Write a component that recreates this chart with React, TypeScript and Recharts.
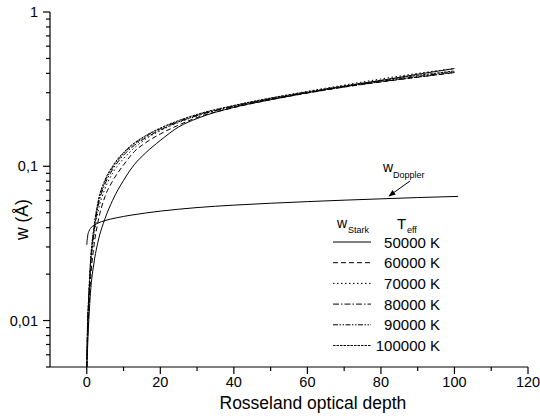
import React from 'react';
import { LineChart, Line, XAxis, YAxis, Label } from 'recharts';

// ---- data ----
const tauGrid = [0, 0.2, 0.5, 1, 2, 3, 5, 7, 10, 13, 16, 20, 25, 30, 40, 50, 60, 70, 80, 90, 100];
const w50000 = [0.005, 0.0065, 0.0095, 0.015, 0.024, 0.032, 0.046, 0.06, 0.081, 0.103, 0.122, 0.147, 0.18, 0.204, 0.241, 0.27, 0.3, 0.33, 0.36, 0.395, 0.43];
const w60000 = [0.005, 0.0075, 0.011, 0.018, 0.031, 0.043, 0.064, 0.08, 0.102, 0.125, 0.142, 0.162, 0.185, 0.207, 0.24, 0.27, 0.298, 0.326, 0.352, 0.378, 0.405];
const w70000 = [0.005, 0.008, 0.0125, 0.021, 0.036, 0.05, 0.072, 0.09, 0.112, 0.132, 0.15, 0.17, 0.192, 0.212, 0.245, 0.276, 0.306, 0.336, 0.368, 0.4, 0.43];
const w80000 = [0.005, 0.0085, 0.013, 0.022, 0.038, 0.054, 0.077, 0.095, 0.118, 0.137, 0.153, 0.172, 0.194, 0.213, 0.244, 0.273, 0.3, 0.328, 0.355, 0.382, 0.41];
const w90000 = [0.005, 0.009, 0.0135, 0.023, 0.04, 0.056, 0.08, 0.098, 0.121, 0.14, 0.156, 0.175, 0.196, 0.215, 0.246, 0.274, 0.3, 0.327, 0.353, 0.378, 0.405];
const w100000 = [0.005, 0.0095, 0.014, 0.024, 0.041, 0.058, 0.082, 0.1, 0.123, 0.142, 0.158, 0.177, 0.198, 0.217, 0.248, 0.277, 0.304, 0.332, 0.36, 0.388, 0.415];

const tauDoppler = [0, 0.1, 0.3, 0.6, 1, 2, 3, 5, 8, 12, 16, 20, 25, 30, 40, 50, 60, 70, 80, 90, 101];
const wDoppler = [0.031, 0.033, 0.036, 0.038, 0.0395, 0.0415, 0.0428, 0.0445, 0.0463, 0.0482, 0.0498, 0.0512, 0.0527, 0.054, 0.056, 0.0576, 0.059, 0.0603, 0.0615, 0.0627, 0.0638];

const legendLabels = ['50000 K', '60000 K', '70000 K', '80000 K', '90000 K', '100000 K'];
const xTicks = [0, 10, 20, 30, 40, 50, 60, 70, 80, 90, 100, 110, 120];
const xMajor = [0, 20, 40, 60, 80, 100, 120];
const yTicks = [
  0.005, 0.006, 0.007, 0.008, 0.009,
  0.01, 0.02, 0.03, 0.04, 0.05, 0.06, 0.07, 0.08, 0.09,
  0.1, 0.2, 0.3, 0.4, 0.5, 0.6, 0.7, 0.8, 0.9, 1,
];
const yMajor = [0.01, 0.1, 1];
const yMajorLabels = ['0,01', '0,1', '1'];

// ---- styles ----
const FONT = '"Liberation Sans", Arial, sans-serif';
const dashes = [undefined, '5 3', '1.5 2.5', '6 2 1.5 2', '5 1.5 1.5 1.5 1.5 1.5', '2.5 1'];

const rows = (t: number[], w: number[]) => t.map((x, i) => ({ t: x, w: w[i] }));
const starkSeries = [w50000, w60000, w70000, w80000, w90000, w100000].map((w) => rows(tauGrid, w));
const dopplerRows = rows(tauDoppler, wDoppler);

const XTick = (props: any) => {
  const { x, y, payload } = props;
  const major = xMajor.includes(payload.value);
  return (
    <g>
      <line x1={x} x2={x} y1={y} y2={y + (major ? 7 : 4)} stroke="#000" strokeWidth={1.2} />
      {major && (
        <text x={x} y={y + 20} textAnchor="middle" fontSize={14.5} fontFamily={FONT} fill="#000">
          {payload.value}
        </text>
      )}
    </g>
  );
};

const YTick = (props: any) => {
  const { x, y, payload } = props;
  const idx = yMajor.indexOf(payload.value);
  const major = idx >= 0;
  return (
    <g>
      <line x1={x - (major ? 7 : 4)} x2={x} y1={y} y2={y} stroke="#000" strokeWidth={1.2} />
      {major && (
        <text x={x - 12} y={y + 5} textAnchor="end" fontSize={14.5} fontFamily={FONT} fill="#000">
          {yMajorLabels[idx]}
        </text>
      )}
    </g>
  );
};

const XTitle = (props: any) => {
  const vb = props.viewBox;
  return (
    <text x={vb.x + vb.width * 0.55} y={vb.y + 42} textAnchor="middle" fontSize={17.5} fontFamily={FONT} fill="#000">
      Rosseland optical depth
    </text>
  );
};

const YTitle = (props: any) => {
  const vb = props.viewBox;
  const cx = 22;
  const cy = vb.y + vb.height * 0.585;
  return (
    <text x={cx} y={cy} textAnchor="middle" dominantBaseline="central" fontSize={17.5} fontFamily={FONT} fill="#000" transform={`rotate(-90 ${cx} ${cy})`}>
      w (Å)
    </text>
  );
};

const Overlay = () => {
  const rowY0 = 242;
  const rowStep = 20.7;
  return (
    <svg width={540} height={416} style={{ position: 'absolute', left: 0, top: 0, pointerEvents: 'none' }} fontFamily={FONT}>
      <defs>
        <marker id="arr" viewBox="0 0 10 10" refX="9" refY="5" markerWidth="7" markerHeight="7" orient="auto">
          <path d="M0,1 L10,5 L0,9 z" fill="#000" />
        </marker>
      </defs>
      {/* Doppler annotation */}
      <text x={383} y={172} fontSize={14} fill="#000">w</text>
      <text x={393} y={178} fontSize={9} fill="#000">Doppler</text>
      <line x1={410} y1={181} x2={389} y2={196} stroke="#000" strokeWidth={1} markerEnd="url(#arr)" />
      {/* legend header */}
      <text x={337} y={228} fontSize={14} fill="#000">w</text>
      <text x={348} y={233} fontSize={9} fill="#000">Stark</text>
      <text x={397} y={229} fontSize={15} fill="#000">T</text>
      <text x={407} y={233} fontSize={9} fill="#000">eff</text>
      {legendLabels.map((lab, i) => {
        const y = rowY0 + i * rowStep;
        return (
          <g key={lab}>
            <line x1={333} x2={371} y1={y} y2={y} stroke="#000" strokeWidth={1} strokeDasharray={dashes[i]} />
            <text x={440} y={y + 5.5} textAnchor="end" fontSize={15} fill="#000">{lab}</text>
          </g>
        );
      })}
    </svg>
  );
};

export default function App() {
  return (
    <div style={{ position: 'absolute', left: 0, top: 0, width: 540, height: 416, background: '#fff' }}>
      <LineChart width={540} height={416} margin={{ top: 12, right: 12, left: 0, bottom: 0 }}>
        <XAxis
          dataKey="t"
          type="number"
          domain={[-10, 120]}
          ticks={xTicks}
          interval={0}
          allowDataOverflow
          height={49}
          tickSize={0}
          tickMargin={0}
          tickLine={false}
          tick={<XTick />}
          axisLine={{ stroke: '#000', strokeWidth: 1.2 }}
        >
          <Label content={<XTitle />} />
        </XAxis>
        <YAxis
          dataKey="w"
          type="number"
          scale="log"
          domain={[0.005, 1]}
          ticks={yTicks}
          interval={0}
          allowDataOverflow
          width={50}
          tickSize={0}
          tickMargin={0}
          tickLine={false}
          tick={<YTick />}
          axisLine={{ stroke: '#000', strokeWidth: 1.2 }}
        >
          <Label content={<YTitle />} />
        </YAxis>
        {starkSeries.map((d, i) => (
          <Line
            key={legendLabels[i]}
            data={d}
            dataKey="w"
            type="monotone"
            stroke="#000"
            strokeWidth={1}
            strokeDasharray={dashes[i]}
            dot={false}
            activeDot={false}
            isAnimationActive={false}
          />
        ))}
        <Line
          data={dopplerRows}
          dataKey="w"
          type="monotone"
          stroke="#000"
          strokeWidth={1}
          dot={false}
          activeDot={false}
          isAnimationActive={false}
        />
      </LineChart>
      <Overlay />
    </div>
  );
}
